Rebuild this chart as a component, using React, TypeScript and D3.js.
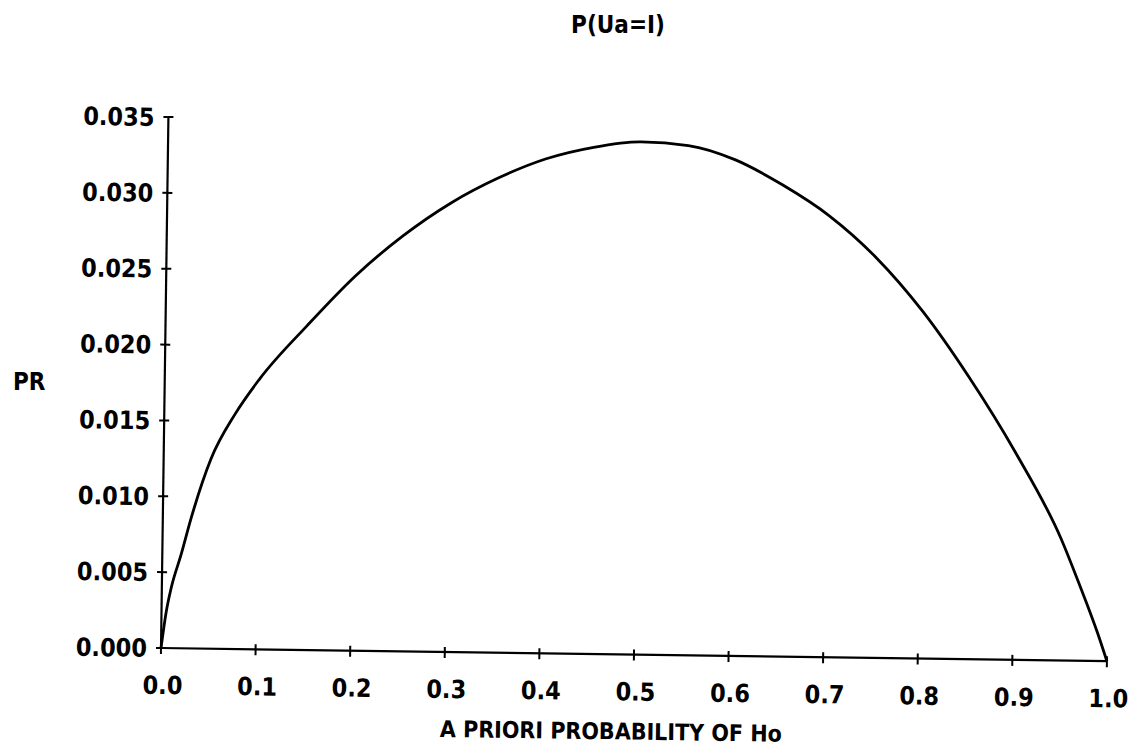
import React from "react";
import * as d3 from "d3";

const TITLE = "P(Ua=I)";
const X_LABEL = "A PRIORI PROBABILITY OF Ho";
const Y_LABEL = "PR";
const xTicks = [0, 0.1, 0.2, 0.3, 0.4, 0.5, 0.6, 0.7, 0.8, 0.9, 1.0];
const xTickLabels = ["0.0", "0.1", "0.2", "0.3", "0.4", "0.5", "0.6", "0.7", "0.8", "0.9", "1.0"];
const yTicks = [0, 0.005, 0.01, 0.015, 0.02, 0.025, 0.03, 0.035];
const yTickLabels = ["0.000", "0.005", "0.010", "0.015", "0.020", "0.025", "0.030", "0.035"];

const priorH0 = [0, 0.005, 0.01, 0.02, 0.03, 0.05, 0.075, 0.1, 0.15, 0.2, 0.25, 0.3, 0.35, 0.4, 0.45, 0.5, 0.55, 0.6, 0.65, 0.7, 0.75, 0.8, 0.85, 0.9, 0.95, 0.97, 0.99, 1.0];
const prValues = [0, 0.0024, 0.004, 0.0062, 0.0086, 0.0125, 0.0155, 0.0178, 0.0214, 0.0247, 0.0274, 0.0296, 0.0313, 0.0326, 0.0334, 0.0338, 0.0336, 0.0327, 0.0311, 0.0291, 0.0264, 0.0229, 0.0186, 0.0137, 0.008, 0.005, 0.0018, 0];

const FONT = "'DejaVu Sans Condensed', 'DejaVu Sans', sans-serif";

export default function App() {
  const W = 1143, H = 752;
  const x0 = 161, x1 = 1107, y0 = 648, y1 = 117;
  const x = d3.scaleLinear().domain([0, 1]).range([x0, x1]);
  const y = d3.scaleLinear().domain([0, 0.035]).range([y0, y1]);
  const pts: [number, number][] = priorH0.map((p, i) => [p, prValues[i]]);
  const line = d3.line<[number, number]>().x(d => x(d[0])).y(d => y(d[1])).curve(d3.curveMonotoneX);
  return (
    <svg width={W} height={H} style={{ position: "absolute", left: 0, top: 0, background: "#fff" }}>
      <rect width={W} height={H} fill="#fff" />
      <text x={618} y={33} textAnchor="middle" fontFamily={FONT} fontWeight="bold" fontSize={24}>{TITLE}</text>
      <text x={13} y={390} fontFamily={FONT} fontWeight="bold" fontSize={24}>{Y_LABEL}</text>
      <g transform={`rotate(0.8, ${x0}, ${y0})`}>
        <line x1={x0} x2={x1} y1={y0} y2={y0} stroke="#000" strokeWidth={2.2} />
        <line x1={x0} x2={x0} y1={y0} y2={y1} stroke="#000" strokeWidth={2.2} />
        {xTicks.map((t, i) => (
          <g key={"x" + i}>
            <line x1={x(t)} x2={x(t)} y1={y0 - 5} y2={y0 + 6} stroke="#000" strokeWidth={2} />
            <text x={x(t) + 2} y={y0 + 46} textAnchor="middle" fontFamily={FONT} fontWeight="bold" fontSize={25}>{xTickLabels[i]}</text>
          </g>
        ))}
        {yTicks.map((t, i) => (
          <g key={"y" + i}>
            <line x1={x0 - 5} x2={x0 + 5} y1={y(t)} y2={y(t)} stroke="#000" strokeWidth={2} />
            <text x={x0 - 14} y={y(t) + 9} textAnchor="end" fontFamily={FONT} fontWeight="bold" fontSize={25}>{yTickLabels[i]}</text>
          </g>
        ))}
        <path d={line(pts) || ""} fill="none" stroke="#000" strokeWidth={2.8} strokeLinejoin="round" />
        <text x={612} y={733} textAnchor="middle" fontFamily={FONT} fontWeight="bold" fontSize={23}>{X_LABEL}</text>
      </g>
    </svg>
  );
}
